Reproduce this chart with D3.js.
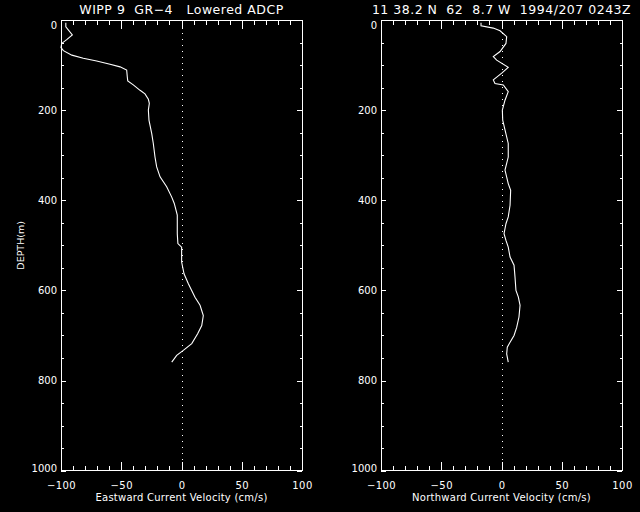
<!DOCTYPE html>
<html><head><meta charset="utf-8">
<script src="https://cdn.jsdelivr.net/npm/d3@7"></script>
<style>
html,body{margin:0;padding:0;background:#000;}
svg{display:block;}
text{fill:#fff;font-family:"DejaVu Sans",sans-serif;}
</style></head>
<body>
<script>
// ---- data ----
const titleLeft = "WIPP 9  GR\u22124   Lowered ADCP";
const titleRight = "11 38.2 N  62  8.7 W  1994/207 0243Z";
const xLabelLeft = "Eastward Current Velocity (cm/s)";
const xLabelRight = "Northward Current Velocity (cm/s)";
const yLabel = "DEPTH(m)";
const xMajorTicks = [-100, -50, 0, 50, 100];
const yMajorTicks = [0, 200, 400, 600, 800, 1000];

const depthU = [6,15,33,43,52,61,68,78,85,91,98,104,111,126,135,144,156,164,176,185,200,222,252,274,304,326,348,370,393,407,433,474,496,504,537,563,585,615,633,656,678,696,718,733,744,759];
const eastU  = [-96,-96,-90.6,-95,-99.4,-100,-98,-91,-81.5,-70.4,-59.3,-51,-45.5,-45,-44.6,-40,-34.4,-30.3,-27.5,-26.7,-27.5,-27,-24.7,-23.4,-22,-20.6,-17.8,-12.3,-8.1,-6,-3.5,-3.5,-3,0.1,0.1,2.1,5.7,11.2,15.4,18.1,16.8,13.4,8.5,1.5,-4,-8.1];

const depthV = [6,13,18,24,37,52,70,81,89,105,118,133,141,144,159,178,200,222,244,274,304,333,363,378,411,437,452,474,489,504,526,544,570,600,615,633,659,682,700,715,726,741,759];
const northV = [-17,-17,-6.8,-1.2,4.3,3.7,-1.2,-6.8,-4,5.6,0.2,-6.8,-5.4,1.5,5.6,2.9,0.7,1,2.9,5.6,5.6,2.9,5.6,7.6,7.1,5.6,3.7,2.1,3.7,5.6,7.1,10.4,11.2,12,14,15.4,14.5,12.6,10.4,7.1,4.8,4.3,5.6];

// ---- drawing ----
const W = 640, H = 512;
const svg = d3.select("body").append("svg").attr("width", W).attr("height", H);
svg.append("rect").attr("width", W).attr("height", H).attr("fill", "#000");

const y = d3.scaleLinear().domain([0, 1000]).range([20, 470.7]);

function panel(x0, x1, title, xlabel, depths, vals, showYLabel) {
  const x = d3.scaleLinear().domain([-100, 100]).range([x0, x1]);
  const g = svg.append("g");
  const top = y.range()[0], bot = y.range()[1];

  // frame
  g.append("rect").attr("x", x0).attr("y", top).attr("width", x1 - x0).attr("height", bot - top)
    .attr("fill", "none").attr("stroke", "#fff").attr("stroke-width", 1).attr("shape-rendering", "crispEdges");

  const minorX = d3.range(-100, 101, 10);
  const minorY = d3.range(0, 1001, 50);
  const style = sel => {
    sel.select(".domain").remove();
    sel.selectAll("line").attr("stroke", "#fff").attr("shape-rendering", "crispEdges");
    sel.selectAll("text").attr("fill", "#fff").style("font-family", '"DejaVu Sans",sans-serif');
  };

  // bottom axis: minor, then major with labels
  g.append("g").attr("transform", `translate(0,${bot})`)
    .call(d3.axisBottom(x).tickValues(minorX).tickSize(-5).tickFormat("")).call(style);
  g.append("g").attr("transform", `translate(0,${bot})`)
    .call(d3.axisBottom(x).tickValues(xMajorTicks).tickSize(-9).tickPadding(11).tickFormat(d3.format("d")))
    .call(style).call(s => s.selectAll("text").style("font-size", "10px").style("letter-spacing", "0.4px"));
  // top axis
  g.append("g").attr("transform", `translate(0,${top})`)
    .call(d3.axisTop(x).tickValues(minorX).tickSize(-5).tickFormat("")).call(style);
  g.append("g").attr("transform", `translate(0,${top})`)
    .call(d3.axisTop(x).tickValues(xMajorTicks).tickSize(-9).tickFormat("")).call(style);
  // left axis
  g.append("g").attr("transform", `translate(${x0},0)`)
    .call(d3.axisLeft(y).tickValues(minorY).tickSize(-2.5).tickFormat("")).call(style);
  g.append("g").attr("transform", `translate(${x0},0)`)
    .call(d3.axisLeft(y).tickValues(yMajorTicks).tickSize(-5).tickPadding(4).tickFormat(d3.format("d")))
    .call(style)
    .call(s => s.selectAll("text").style("font-size", "10px")
      .attr("dy", d => d === 0 ? "0.85em" : d === 1000 ? "0.1em" : "0.32em"));
  // right axis
  g.append("g").attr("transform", `translate(${x1},0)`)
    .call(d3.axisRight(y).tickValues(minorY).tickSize(-2.5).tickFormat("")).call(style);
  g.append("g").attr("transform", `translate(${x1},0)`)
    .call(d3.axisRight(y).tickValues(yMajorTicks).tickSize(-5).tickFormat("")).call(style);

  // dotted zero line
  g.append("line").attr("x1", Math.round(x(0)) + 0.5).attr("x2", Math.round(x(0)) + 0.5)
    .attr("y1", top + 13).attr("y2", bot)
    .attr("stroke", "#fff").attr("stroke-width", 1).attr("stroke-dasharray", "1,5");

  // profile
  const pts = depths.map((d, i) => [vals[i], d]);
  g.append("path").datum(pts)
    .attr("d", d3.line().x(p => x(p[0])).y(p => y(p[1])))
    .attr("fill", "none").attr("stroke", "#fff").attr("stroke-width", 1.1);

  // title
  g.append("text").attr("x", (x0 + x1) / 2).attr("y", 13.5).attr("text-anchor", "middle")
    .attr("xml:space", "preserve")
    .style("font-size", "12.5px").style("letter-spacing", "0.5px").style("white-space", "pre").text(title);
  // x label
  g.append("text").attr("x", (x0 + x1) / 2).attr("y", 501).attr("text-anchor", "middle")
    .attr("xml:space", "preserve")
    .style("font-size", "10px").style("letter-spacing", "0.25px").style("white-space", "pre").text(xlabel);

  if (showYLabel) {
    g.append("text").attr("transform", `translate(24,${(top + bot) / 2}) rotate(-90)`)
      .attr("text-anchor", "middle").style("font-size", "9.5px").text(yLabel);
  }
}

panel(61, 302, titleLeft, xLabelLeft, depthU, eastU, true);
panel(381, 622, titleRight, xLabelRight, depthV, northV, false);
</script>
</body></html>
